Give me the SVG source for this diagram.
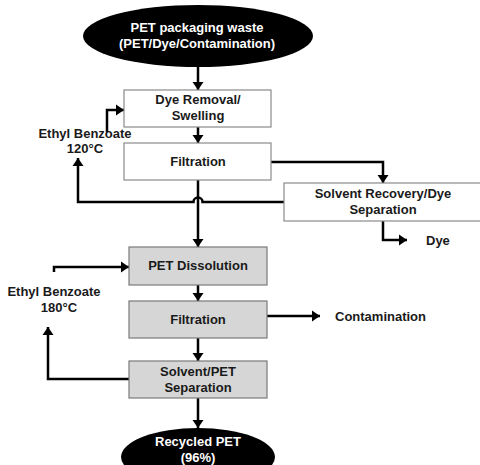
<svg xmlns="http://www.w3.org/2000/svg" width="480" height="465" viewBox="0 0 480 465">
<defs>
<marker id="ah" markerUnits="userSpaceOnUse" markerWidth="12" markerHeight="12" refX="8" refY="6" orient="auto">
<path d="M0,0.5 L8,6 L0,11.5 z" fill="#000"/>
</marker>
<style>
text{font-family:"Liberation Sans",Arial,sans-serif;font-weight:bold;font-size:13px;fill:#1a1a1a;text-anchor:middle}
.w{fill:#fff}
.box{fill:#fff;stroke:#8a8a8a;stroke-width:1.2}
.gbox{fill:#d6d6d6;stroke:#7a7a7a;stroke-width:1.2}
.ln{fill:none;stroke:#000;stroke-width:2.5}
.lt{text-anchor:start}
</style>
</defs>
<rect width="480" height="465" fill="#fff"/>
<g id="connectors">
<path class="ln" d="M198,67 V90" marker-end="url(#ah)"/>
<path class="ln" d="M198,127 V143" marker-end="url(#ah)"/>
<path class="ln" d="M107,132 V110 H124" marker-end="url(#ah)"/>
<path class="ln" d="M271,162 H383 V183" marker-end="url(#ah)"/>
<path class="ln" d="M284,202 H202.5 A4.5,4.5 0 0 0 193.5,202 H78 V158" marker-end="url(#ah)"/>
<path class="ln" d="M383,221 V240 H407" marker-end="url(#ah)"/>
<path class="ln" d="M198,180 V247" marker-end="url(#ah)"/>
<path class="ln" d="M54,272 V267 H129" marker-end="url(#ah)"/>
<path class="ln" d="M198,285 V301" marker-end="url(#ah)"/>
<path class="ln" d="M267,316 H320" marker-end="url(#ah)"/>
<path class="ln" d="M198,338 V361" marker-end="url(#ah)"/>
<path class="ln" d="M129,379 H48 V327" marker-end="url(#ah)"/>
<path class="ln" d="M198,398 V428" marker-end="url(#ah)"/>
</g>
<g id="pet-waste">
<ellipse cx="198" cy="36" rx="115" ry="31" fill="#000"/>
<text class="w" x="197" y="32">PET packaging waste</text>
<text class="w" x="197" y="48">(PET/Dye/Contamination)</text>
</g>
<g id="dye-removal">
<rect class="box" x="124" y="90" width="147" height="37"/>
<text x="198" y="104">Dye Removal/</text>
<text x="198" y="120">Swelling</text>
</g>
<g id="filtration1">
<rect class="box" x="124" y="143" width="147" height="37"/>
<text x="198" y="166">Filtration</text>
</g>
<g id="solvent-recovery">
<rect class="box" x="284" y="183" width="210" height="38"/>
<text x="383" y="198">Solvent Recovery/Dye</text>
<text x="383" y="214">Separation</text>
</g>
<g id="dye-out">
<text class="lt" x="426" y="245">Dye</text>
</g>
<g id="eb120">
<text x="85" y="138">Ethyl Benzoate</text>
<text x="85" y="153">120°C</text>
</g>
<g id="pet-dissolution">
<rect class="gbox" x="129" y="247" width="138" height="38"/>
<text x="198" y="270">PET Dissolution</text>
</g>
<g id="eb180">
<text x="54" y="296">Ethyl Benzoate</text>
<text x="59" y="312">180°C</text>
</g>
<g id="filtration2">
<rect class="gbox" x="129" y="301" width="138" height="37"/>
<text x="198" y="324">Filtration</text>
</g>
<g id="contamination">
<text class="lt" x="335" y="321">Contamination</text>
</g>
<g id="solvent-pet">
<rect class="gbox" x="129" y="361" width="138" height="37"/>
<text x="198" y="376">Solvent/PET</text>
<text x="198" y="392">Separation</text>
</g>
<g id="recycled">
<ellipse cx="198" cy="457" rx="77" ry="29" fill="#000"/>
<text class="w" x="198" y="446">Recycled PET</text>
<text class="w" x="198" y="462">(96%)</text>
</g>
</svg>
